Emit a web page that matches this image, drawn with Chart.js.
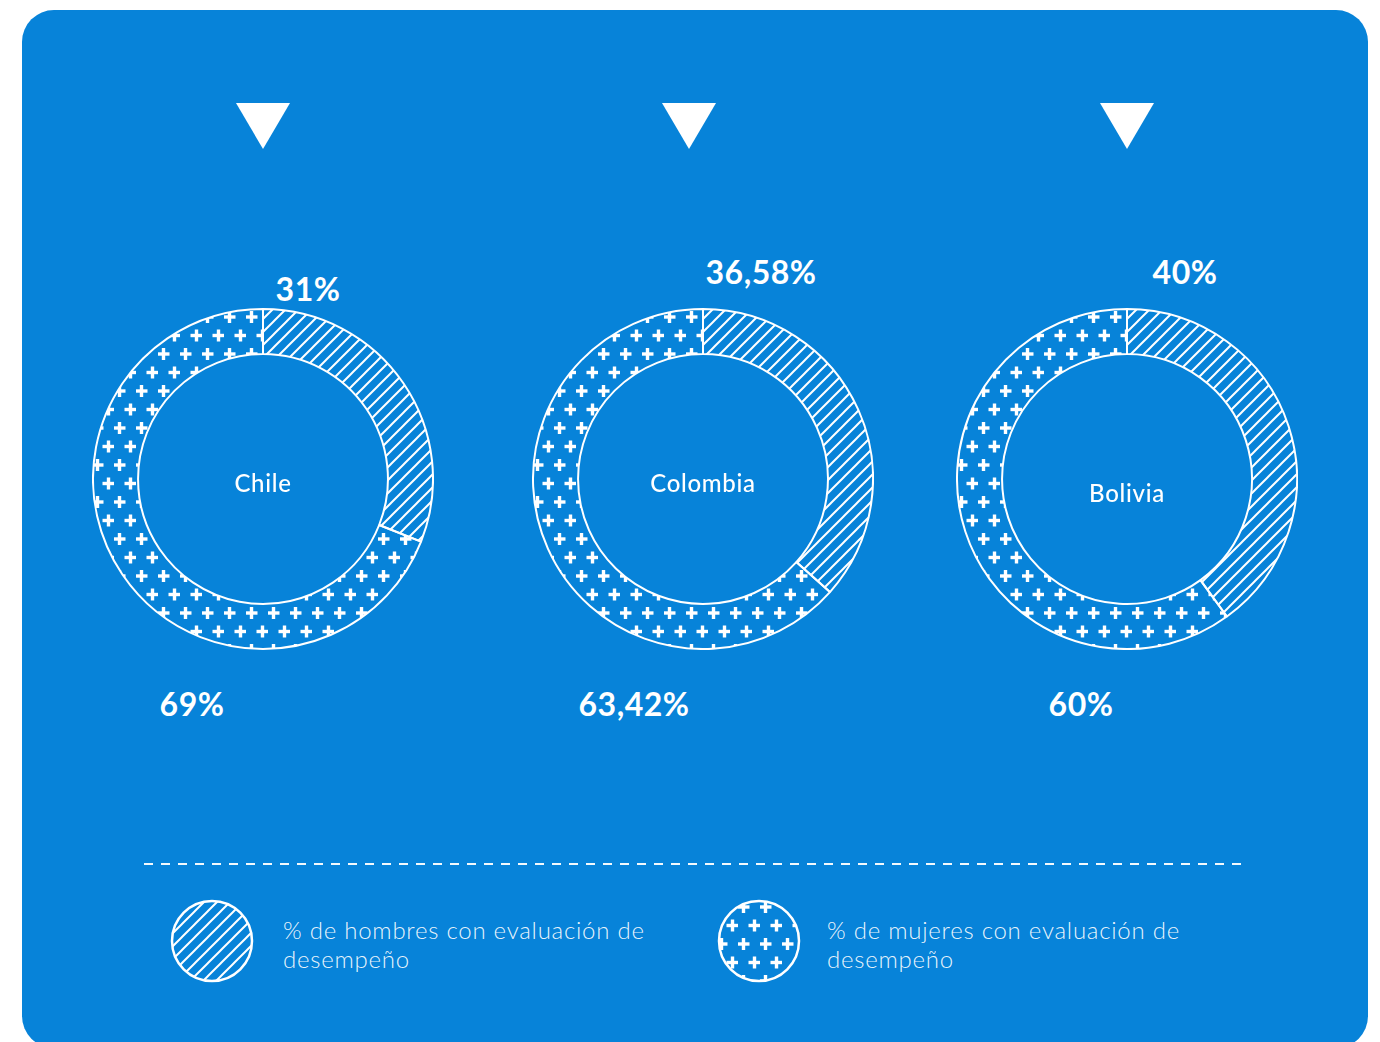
<!DOCTYPE html>
<html>
<head>
<meta charset="utf-8">
<script src="https://cdn.jsdelivr.net/npm/chart.js@4.4.0/dist/chart.umd.min.js"></script>
<style>
  html, body { margin: 0; padding: 0; background: #fff; }
  body { width: 1380px; height: 1042px; position: relative; overflow: hidden; font-family: Lato, "Noto Sans", sans-serif; color: #fff; }
  .panel { position: absolute; left: 22px; top: 10px; width: 1346px; height: 1038px; border-radius: 32px; background: #0783d9; }
  .tri { position: absolute; width: 54px; height: 46px; background: #fff; clip-path: polygon(0 0, 100% 0, 50% 100%); }
  .donut { position: absolute; width: 342px; height: 342px; }
  .pct { position: absolute; font-weight: 700; font-size: 32px; letter-spacing: 0.5px; transform: translate(-50%, -50%); white-space: nowrap; }
  .name { position: absolute; font-weight: 500; font-size: 24px; letter-spacing: 0.7px; transform: translate(-50%, -50%); white-space: nowrap; }
  .dash { position: absolute; left: 144px; top: 863px; width: 1104px; height: 2px;
          background: repeating-linear-gradient(90deg, rgba(255,255,255,0.95) 0 9px, transparent 9px 17px); }
  .leg { position: absolute; font-weight: 300; font-size: 24px; letter-spacing: 0.75px; line-height: 29px; color: rgba(255,255,255,0.92); }
</style>
</head>
<body>
<div class="panel"></div>
<div class="dash"></div>
<div id="root"></div>
<script>
const countries = ["Chile", "Colombia", "Bolivia"];
const hombres = [31, 36.58, 40];
const mujeres = [69, 63.42, 60];
const seriesNames = ["% de hombres con evaluación de desempeño", "% de mujeres con evaluación de desempeño"];

// layout (centre of each donut and label offsets)
const centers = [[263, 479], [703, 479], [1127, 479]];
const nameDy = [3, 3, 13];
const topOff = [[45, -191], [58, -208], [58, -208]];
const botOff = [[-71, 224], [-69, 224], [-46, 224]];

function hatchPattern() {
  const s = 13;
  const c = document.createElement('canvas');
  c.width = s; c.height = s;
  const x = c.getContext('2d');
  x.strokeStyle = '#fff';
  x.lineWidth = 2;
  x.beginPath();
  x.moveTo(-1, s + 1); x.lineTo(s + 1, -1);
  x.moveTo(-s / 2 - 1, s / 2 + 1); x.lineTo(s / 2 + 1, -s / 2 - 1);
  x.moveTo(s / 2 - 1, s * 1.5 + 1); x.lineTo(s * 1.5 + 1, s / 2 - 1);
  x.stroke();
  return x.createPattern(c, 'repeat');
}

function plusPattern() {
  const c = document.createElement('canvas');
  c.width = 22; c.height = 37;
  const x = c.getContext('2d');
  x.fillStyle = '#fff';
  function plus(cx, cy) {
    x.fillRect(cx - 6, cy - 1.7, 12, 3.4);
    x.fillRect(cx - 1.7, cy - 6, 3.4, 12);
  }
  plus(5.5, 9);
  plus(16.5, 27.5);
  return x.createPattern(c, 'repeat');
}

const hatch = hatchPattern();
const pluses = plusPattern();
const root = document.getElementById('root');

function fmt(v) { return String(v).replace('.', ',') + '%'; }

function addText(cls, txt, x, y) {
  const d = document.createElement('div');
  d.className = cls;
  d.textContent = txt;
  d.style.left = x + 'px';
  d.style.top = y + 'px';
  root.appendChild(d);
}

countries.forEach(function (name, i) {
  const cx = centers[i][0], cy = centers[i][1];

  const t = document.createElement('div');
  t.className = 'tri';
  t.style.left = (cx - 27 + (i === 1 ? -14 : 0)) + 'px';
  t.style.top = '103px';
  root.appendChild(t);

  const cv = document.createElement('canvas');
  cv.className = 'donut';
  cv.width = 342; cv.height = 342;
  cv.style.left = (cx - 171) + 'px';
  cv.style.top = (cy - 171) + 'px';
  root.appendChild(cv);

  new Chart(cv, {
    type: 'doughnut',
    data: {
      labels: seriesNames,
      datasets: [{
        data: [hombres[i], mujeres[i]],
        backgroundColor: [hatch, pluses],
        borderColor: '#fff',
        borderWidth: 2
      }]
    },
    options: {
      responsive: false,
      animation: false,
      cutout: '73.5%',
      layout: { padding: 0 },
      plugins: { legend: { display: false }, tooltip: { enabled: false } },
      events: []
    }
  });

  addText('name', name, cx, cy + nameDy[i]);
  addText('pct', fmt(hombres[i]), cx + topOff[i][0], cy + topOff[i][1]);
  addText('pct', fmt(mujeres[i]), cx + botOff[i][0], cy + botOff[i][1]);
});

// legend
const legendX = [212, 759];
const legendTextX = [283, 827];
const legendPats = [hatch, pluses];
const legendLines = [["% de hombres con evaluación de", "desempeño"], ["% de mujeres con evaluación de", "desempeño"]];
legendX.forEach(function (lx, i) {
  const c = document.createElement('canvas');
  c.width = 86; c.height = 86;
  c.style.position = 'absolute';
  c.style.left = (lx - 43) + 'px';
  c.style.top = (941 - 43) + 'px';
  root.appendChild(c);
  const g = c.getContext('2d');
  g.beginPath();
  g.arc(43, 43, 40, 0, Math.PI * 2);
  g.fillStyle = legendPats[i];
  g.fill();
  g.strokeStyle = '#fff';
  g.lineWidth = 2.5;
  g.stroke();

  const d = document.createElement('div');
  d.className = 'leg';
  d.style.left = legendTextX[i] + 'px';
  d.style.top = '915px';
  d.innerHTML = legendLines[i].join('<br>');
  root.appendChild(d);
});
</script>
</body>
</html>
